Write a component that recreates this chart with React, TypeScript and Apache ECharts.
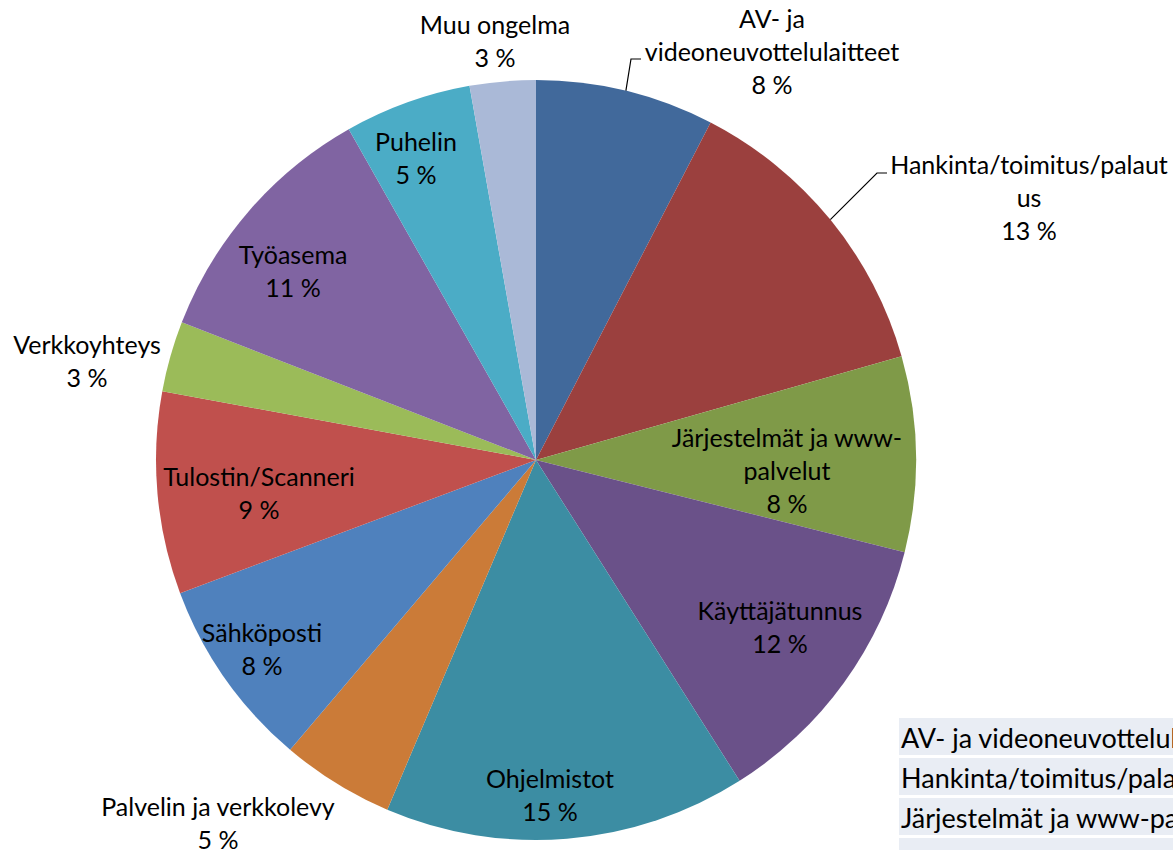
import React, { useEffect, useRef } from "react";
import * as echarts from "echarts";

// Categories (clockwise from 12 o'clock)
const categories = [
  "AV- ja videoneuvottelulaitteet",
  "Hankinta/toimitus/palautus",
  "Järjestelmät ja www-palvelut",
  "Käyttäjätunnus",
  "Ohjelmistot",
  "Palvelin ja verkkolevy",
  "Sähköposti",
  "Tulostin/Scanneri",
  "Verkkoyhteys",
  "Työasema",
  "Puhelin",
  "Muu ongelma",
];

// Label text with the wrapping seen in the reference
const labelTexts = [
  "AV- ja\nvideoneuvottelulaitteet",
  "Hankinta/toimitus/palaut\nus",
  "Järjestelmät ja www-\npalvelut",
  "Käyttäjätunnus",
  "Ohjelmistot",
  "Palvelin ja verkkolevy",
  "Sähköposti",
  "Tulostin/Scanneri",
  "Verkkoyhteys",
  "Työasema",
  "Puhelin",
  "Muu ongelma",
];

// Shares (%)
const values = [7.6, 13.0, 8.3, 12.1, 15.4, 4.8, 8.1, 8.6, 3.0, 10.9, 5.4, 2.8];

const colors = [
  "#41699B",
  "#9B403E",
  "#7F9A48",
  "#6A5189",
  "#3C8DA3",
  "#CB7B38",
  "#4F81BD",
  "#C0504D",
  "#9BBB59",
  "#8064A2",
  "#4BACC6",
  "#AAB9D7",
];

// Layout (label centres in px) — not data
const CX = 536;
const CY = 460;
const R = 380;
const labelPos: [number, number][] = [
  [772, 51],
  [1029, 197],
  [787, 470],
  [780, 626],
  [550, 794],
  [218, 822],
  [262, 648],
  [259, 492],
  [87, 360],
  [293, 270],
  [416, 157],
  [495, 40],
];
const withLine = [0, 1];
const lineElbow: Record<number, [number, number][]> = {
  0: [
    [631, 59],
    [641, 59],
  ],
  1: [
    [877, 173],
    [887, 173],
  ],
};

const FONT = "Lato, 'Open Sans', sans-serif";

export default function App() {
  const ref = useRef<HTMLDivElement>(null);

  useEffect(() => {
    if (!ref.current) return;
    const chart = echarts.init(ref.current, null, { renderer: "svg" });
    const total = values.reduce((a, b) => a + b, 0);
    const cum: number[] = [];
    let acc = 0;
    values.forEach((v) => {
      cum.push(acc + v / 2);
      acc += v;
    });

    // Legend table (cut off at the right/bottom edge as in the reference)
    const graphics: any[] = [];
    categories.slice(0, 4).forEach((name, i) => {
      graphics.push({
        type: "rect",
        left: 899,
        top: 718 + i * 40,
        shape: { width: 300, height: 37 },
        style: { fill: "#E9EDF4" },
        silent: true,
      });
      if (i < 3) {
        graphics.push({
          type: "text",
          x: 901,
          y: 718 + i * 40 + 19,
          style: {
            text: name,
            fontFamily: FONT,
            fontSize: 27,
            fill: "#000",
            verticalAlign: "middle",
          },
          silent: true,
        });
      }
    });

    chart.setOption({
      animation: false,
      backgroundColor: "#ffffff",
      graphic: graphics,
      series: [
        {
          type: "pie",
          center: [CX, CY],
          radius: R,
          startAngle: 90,
          clockwise: true,
          avoidLabelOverlap: false,
          minShowLabelAngle: 0,
          emphasis: { disabled: true },
          itemStyle: { borderWidth: 0 },
          label: {
            show: true,
            position: "outside",
            overflow: "none",
            fontFamily: FONT,
            fontSize: 25,
            lineHeight: 33,
            color: "#000",
            align: "center",
            formatter: (p: any) =>
              labelTexts[p.dataIndex] + "\n" + Math.round(p.percent) + " %",
          },
          labelLine: { show: false, lineStyle: { color: "#000", width: 1.2 } },
          labelLayout: (params: any) => {
            const i = params.dataIndex;
            const [x, y] = labelPos[i];
            const res: any = { x, y, align: "center", verticalAlign: "middle" };
            if (withLine.includes(i)) {
              const ang = (cum[i] / total) * Math.PI * 2;
              const sx = CX + R * Math.sin(ang);
              const sy = CY - R * Math.cos(ang);
              res.labelLinePoints = [[sx, sy], ...lineElbow[i]];
            }
            return res;
          },
          data: categories.map((name, i) => ({
            name,
            value: values[i],
            itemStyle: { color: colors[i] },
            labelLine: { show: withLine.includes(i) },
          })),
        },
      ],
    });
    return () => chart.dispose();
  }, []);

  return (
    <div
      ref={ref}
      style={{ position: "absolute", left: 0, top: 0, width: 1173, height: 850 }}
    />
  );
}
